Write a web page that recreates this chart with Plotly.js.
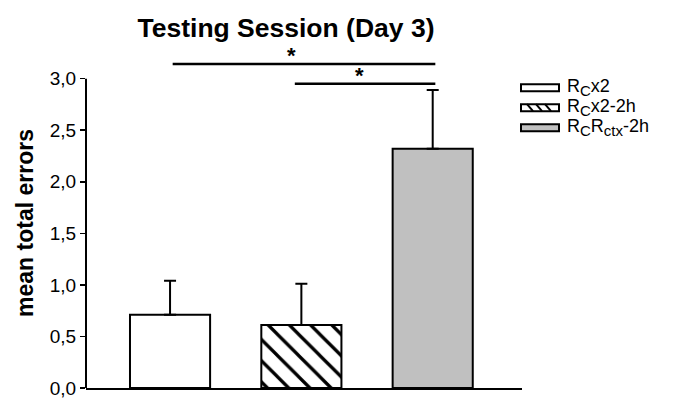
<!DOCTYPE html>
<html>
<head>
<meta charset="utf-8">
<script src="https://cdn.plot.ly/plotly-3.0.1.min.js"></script>
<style>html,body{margin:0;padding:0;background:#fff;}#chart{width:673px;height:398px;}</style>
</head>
<body>
<div id="chart"></div>
<script>
// ---- data ----
const groupLabels = [
  'R<sub><span style="font-size:15px">C</span></sub>x2',
  'R<sub><span style="font-size:15px">C</span></sub>x2-2h',
  'R<sub><span style="font-size:15px">C</span></sub>R<sub><span style="font-size:15px">ctx</span></sub>-2h'
];
const groupX = [0, 1, 2];
const meanErrors = [0.71, 0.61, 2.32];
const semErrors = [0.33, 0.40, 0.57];
const yTickVals = [0, 0.5, 1, 1.5, 2, 2.5, 3];
const sig1X = [0.02, 2.02];
const sig1Y = [3.143, 3.143];
const sig2X = [0.95, 2.02];
const sig2Y = [2.951, 2.951];
const starX = [0.925, 1.446];
const starY = [3.143, 2.951];

const FONT = 'Liberation Sans, Arial, sans-serif';
const barFills = ['#ffffff', '#ffffff', '#c0c0c0'];
const barPatterns = ['', '\\', ''];

const barTraces = groupX.map((gx, i) => ({
  type: 'bar',
  x: [gx],
  y: [meanErrors[i]],
  width: 0.61,
  marker: {
    color: barFills[i],
    line: {color: '#000', width: 2},
    pattern: barPatterns[i] ? {shape: barPatterns[i], fgcolor: '#000', bgcolor: '#fff', size: 15, solidity: 0.22} : {shape: ''}
  },
  error_y: {type: 'data', symmetric: false, array: [semErrors[i]], arrayminus: [0],
            color: '#000', thickness: 2, width: 6},
  showlegend: false,
  hoverinfo: 'skip'
}));

const sigTraces = [[sig1X, sig1Y], [sig2X, sig2Y]].map(([xs, ys]) => ({
  type: 'scatter', mode: 'lines', x: xs, y: ys,
  line: {color: '#000', width: 2.5}, showlegend: false, hoverinfo: 'skip'
}));

const yTop = 3.2;
const plotL = 86, plotR = 522, plotB = 388, yPxPerUnit = 103;
const plotT = plotB - yTop * yPxPerUnit;
const pxX = px => (px - plotL) / (plotR - plotL);
const pxY = py => (plotB - py) / (plotB - plotT);
const legendRows = [88, 108, 128];
const shapes = [];
const annotations = [];
// y-axis line, only up to 3,0
shapes.push({type: 'line', xref: 'paper', yref: 'y', x0: 0, x1: 0, y0: 0, y1: 3.0,
  line: {color: '#000', width: 2}});
// custom legend
legendRows.forEach((ry, i) => {
  shapes.push({type: 'rect', xref: 'paper', yref: 'paper',
    x0: pxX(521), x1: pxX(559), y0: pxY(ry + 3.5), y1: pxY(ry - 3.5),
    line: {color: '#000', width: 2}, fillcolor: barFills[i]});
  annotations.push({xref: 'paper', yref: 'paper', x: pxX(565), y: pxY(ry),
    xanchor: 'left', yanchor: 'middle', showarrow: false, text: groupLabels[i],
    font: {family: FONT, size: 18, color: '#000'}});
});
[[527, 533], [536, 542], [545, 551]].forEach(([a, b]) => {
  shapes.push({type: 'line', xref: 'paper', yref: 'paper',
    x0: pxX(a), x1: pxX(b), y0: pxY(legendRows[1] - 3.5), y1: pxY(legendRows[1] + 3.5),
    line: {color: '#000', width: 2}});
});
starX.forEach((sx, i) => {
  annotations.push({xref: 'x', yref: 'y', x: sx, y: starY[i], text: '<b>*</b>',
    showarrow: false, xanchor: 'center', yanchor: 'bottom', yshift: -6,
    font: {family: FONT, size: 22, color: '#000'}});
});

const layout = {
  width: 673, height: 398,
  margin: {l: plotL, r: 673 - plotR, t: plotT, b: 398 - plotB},
  paper_bgcolor: '#fff', plot_bgcolor: '#fff',
  font: {family: FONT, color: '#000'},
  barmode: 'overlay',
  title: {text: '<b>Testing Session (Day 3)</b>', font: {family: FONT, size: 26.5, color: '#000'},
          xref: 'container', yref: 'container', x: 286 / 673, xanchor: 'center',
          y: 1 - 28 / 398, yanchor: 'middle'},
  xaxis: {range: [-0.64, 2.68], showline: true, linewidth: 2, linecolor: '#000',
          showticklabels: false, ticks: '', showgrid: false, zeroline: false, fixedrange: true},
  yaxis: {range: [0, yTop], tickvals: yTickVals, tickformat: '.1f', ticks: 'outside', ticklen: 5,
          tickwidth: 1.5, tickcolor: '#000', showline: false,
          showgrid: false, zeroline: false, ticklabeloverflow: 'allow',
          tickfont: {family: FONT, size: 19, color: '#000'},
          title: {text: '<b>mean total errors</b>', font: {family: FONT, size: 23, color: '#000'}, standoff: 9}},
  separators: ',.',
  shapes: shapes,
  annotations: annotations,
  showlegend: false
};

Plotly.newPlot('chart', [...barTraces, ...sigTraces], layout, {displayModeBar: false, staticPlot: true});
</script>
</body>
</html>
